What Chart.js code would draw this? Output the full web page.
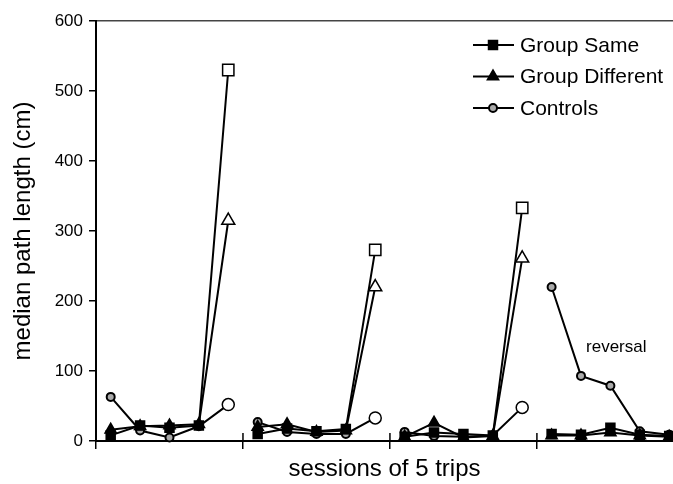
<!DOCTYPE html>
<html>
<head>
<meta charset="utf-8">
<script src="https://cdn.jsdelivr.net/npm/chart.js"></script>
<style>
  body { margin: 0; background: #fff; }
  canvas { display: block; }
</style>
</head>
<body>
<canvas id="chart" width="673" height="484"></canvas>
<script>
// 4 blocks of 5 sessions; last block is the reversal
const sessionsPerBlock = 5;
const groupSame      = [8, 22, 19, 22, 530,   10, 18, 14, 17, 273,   6, 12, 10, 8, 333,   10, 9, 19, 9, 7];
const groupDifferent = [16, 21, 22, 24, 315,  20, 24, 13, 15, 220,   6, 26, 5, 7, 261,    8, 8, 12, 8, 6];
const controls       = [63, 15, 5, 21, 52,    27, 13, 10, 10, 33,    13, 7, 6, 8, 48,     220, 93, 79, 14, 9];
const openSessions = [4, 9, 14]; // end-of-block probe points (open markers)
const blockEdges = [-0.5, 4.5, 9.5, 14.5];
const yTicks = [0, 100, 200, 300, 400, 500, 600];

const FONT = '"Liberation Sans", Arial, Helvetica, sans-serif';

const toPoints = arr => arr.map((v, i) => ({ x: i, y: v }));
const blockOf = i => Math.floor(i / sessionsPerBlock);
const isOpen = i => openSessions.includes(i);

function series(label, values, style, radius, openRadius, fill) {
    return {
        label: label,
        data: toPoints(values),
        borderColor: '#000',
        borderWidth: 2,
        clip: false,
        pointStyle: style,
        pointRadius: ctx => isOpen(ctx.dataIndex) ? openRadius : radius,
        pointBorderWidth: ctx => isOpen(ctx.dataIndex) ? 1.5 : 2,
        pointBorderColor: '#000',
        pointBackgroundColor: ctx => isOpen(ctx.dataIndex) ? '#fff' : fill,
        legendRadius: radius,
        legendFill: fill,
        segment: {
            borderColor: ctx => blockOf(ctx.p0DataIndex) === blockOf(ctx.p1DataIndex) ? '#000' : 'transparent'
        }
    };
}

// legend drawn inside the plot, top right
const legendInside = {
    id: 'legendInside',
    afterDraw(chart) {
        const ctx = chart.ctx;
        ctx.save();
        chart.data.datasets.forEach((ds, i) => {
            const y = 45 + i * 31.5;
            ctx.strokeStyle = '#000';
            ctx.lineWidth = 2;
            ctx.beginPath();
            ctx.moveTo(473, y);
            ctx.lineTo(514, y);
            ctx.stroke();
            ctx.fillStyle = ds.legendFill;
            ctx.lineWidth = 2;
            Chart.helpers.drawPoint(ctx, { pointStyle: ds.pointStyle, radius: ds.legendRadius, rotation: 0, borderWidth: 2 }, 493, y);
            ctx.fillStyle = '#000';
            ctx.font = '21px ' + FONT;
            ctx.textBaseline = 'middle';
            ctx.textAlign = 'left';
            ctx.fillText(ds.label, 520, y + 1);
        });
        ctx.restore();
    }
};

// block separator ticks cross the axis; note on the reversal block
const extras = {
    id: 'extras',
    afterDraw(chart) {
        const ctx = chart.ctx;
        const x = chart.scales.x, y = chart.scales.y;
        ctx.save();
        ctx.strokeStyle = '#000';
        ctx.lineWidth = 1.5;
        blockEdges.slice(1).forEach(v => {
            const px = x.getPixelForValue(v);
            ctx.beginPath();
            ctx.moveTo(px, y.bottom - 8);
            ctx.lineTo(px, y.bottom);
            ctx.stroke();
        });
        ctx.fillStyle = '#000';
        ctx.font = '17px ' + FONT;
        ctx.textAlign = 'center';
        ctx.textBaseline = 'middle';
        ctx.fillText('reversal', x.getPixelForValue(17.2), y.getPixelForValue(134));
        ctx.restore();
    }
};

new Chart(document.getElementById('chart'), {
    type: 'line',
    data: {
        datasets: [
            series('Group Same', groupSame, 'rect', 6, 8, '#000'),
            series('Group Different', groupDifferent, 'triangle', 6, 7.5, '#000'),
            series('Controls', controls, 'circle', 4, 6, '#aaa')
        ]
    },
    options: {
        responsive: false,
        animation: false,
        devicePixelRatio: 1,
        events: [],
        layout: { autoPadding: false, padding: { top: 21, right: 0, left: 0, bottom: 0 } },
        plugins: { legend: { display: false }, tooltip: { enabled: false } },
        scales: {
            x: {
                type: 'linear',
                min: -0.5,
                max: 19.13,
                afterBuildTicks: s => { s.ticks = blockEdges.map(v => ({ value: v })); },
                afterFit: s => { s.height = 43; },
                ticks: { display: false },
                grid: { drawOnChartArea: false, drawTicks: true, tickLength: 8, color: '#000', lineWidth: 1.5 },
                border: { color: '#000', width: 2 },
                title: {
                    display: true,
                    text: 'sessions of 5 trips',
                    color: '#000',
                    font: { family: FONT, size: 24 },
                    padding: { top: 7, bottom: 0 }
                }
            },
            xTop: {
                type: 'linear',
                position: 'top',
                min: -0.5,
                max: 19.13,
                afterFit: s => { s.height = 0; },
                ticks: { display: false },
                grid: { display: false, drawTicks: false },
                border: { color: '#444', width: 1.5 }
            },
            y: {
                min: 0,
                max: 600,
                afterBuildTicks: s => { s.ticks = yTicks.map(v => ({ value: v })); },
                afterFit: s => { s.width = 96; },
                ticks: { color: '#000', font: { family: FONT, size: 17 }, padding: 6 },
                grid: { drawOnChartArea: false, drawTicks: true, tickLength: 7, color: '#000', lineWidth: 1.5 },
                border: { color: '#000', width: 2 },
                title: {
                    display: true,
                    text: 'median path length (cm)',
                    color: '#000',
                    font: { family: FONT, size: 24 },
                    padding: { top: 9, bottom: 0 }
                }
            }
        }
    },
    plugins: [legendInside, extras]
});
</script>
</body>
</html>
